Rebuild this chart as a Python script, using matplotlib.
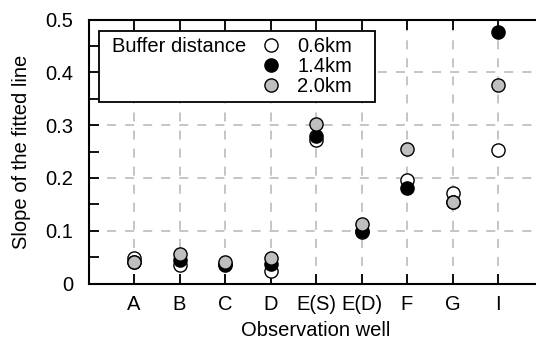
import matplotlib
matplotlib.use("Agg")
import matplotlib.pyplot as plt
from matplotlib.offsetbox import HPacker, DrawingArea

plt.rcParams['font.family'] = ['Liberation Sans', 'DejaVu Sans']
plt.rcParams['font.size'] = 14.5

wells = ['A', 'B', 'C', 'D', 'E(S)', 'E(D)', 'F', 'G', 'I']
slope_06 = [0.049, 0.035, 0.037, 0.024, 0.272, 0.098, 0.196, 0.172, 0.253]
slope_14 = [0.040, 0.045, 0.035, 0.036, 0.279, 0.100, 0.181, 0.155, 0.476]
slope_20 = [0.040, 0.056, 0.041, 0.048, 0.303, 0.112, 0.254, 0.155, 0.376]
series = [('0.6km', slope_06, 'white'), ('1.4km', slope_14, 'black'), ('2.0km', slope_20, '#bfbfbf')]

fig = plt.figure(figsize=(5.36, 3.43), dpi=100)
ax = fig.add_axes([88.5/536, 59.5/343, 455/536, 264/343])

x = list(range(1, len(wells) + 1))
for lab, vals, col in series:
    ax.plot(x, vals, 'o', ms=9.5, mfc=col, mec='black', mew=1.0, label=lab, zorder=3)

ax.set_xlim(0, 10)
ax.set_ylim(0, 0.5)
ax.set_xticks(x)
ax.set_xticklabels(wells)
ax.set_yticks([0, 0.1, 0.2, 0.3, 0.4, 0.5])
ax.set_yticklabels(['0', '0.1', '0.2', '0.3', '0.4', '0.5'])
ax.set_yticks([0.05, 0.15, 0.25, 0.35, 0.45], minor=True)
ax.tick_params(axis='both', which='both', direction='in', length=7, width=1.3, top=True, right=False)
ax.tick_params(axis='y', which='major', pad=11)
ax.tick_params(axis='x', which='major', pad=8)
ax.grid(True, which='major', color='#c0c0c0', lw=1.3, ls=(0, (5, 5)), zorder=0)
ax.set_axisbelow(True)
for s in ax.spines.values():
    s.set_linewidth(1.5)

ax.set_xlabel('Observation well', labelpad=5)
ax.set_ylabel('Slope of the fitted line', labelpad=10)

# legend with the title on the left of the entries
leg = ax.legend(title='Buffer distance', loc='upper left', bbox_to_anchor=(0.023, 0.956),
                borderaxespad=0, fancybox=False, framealpha=1, edgecolor='black',
                handlelength=0.8, handletextpad=0.9, labelspacing=0.05, borderpad=0.3,
                title_fontsize=14.5)
leg.get_frame().set_linewidth(1.3)
box = leg._legend_box
title_row = HPacker(pad=0, sep=0, align='top',
                    children=[DrawingArea(5, 1), leg._legend_title_box])
leg._legend_box = HPacker(pad=box.pad, sep=12, align='top',
                          children=[title_row, leg._legend_handle_box, DrawingArea(0, 1)])
leg._legend_box.set_figure(fig)
leg._legend_box.axes = ax
leg._set_loc(leg._loc)

fig.savefig('out.png', dpi=100)
